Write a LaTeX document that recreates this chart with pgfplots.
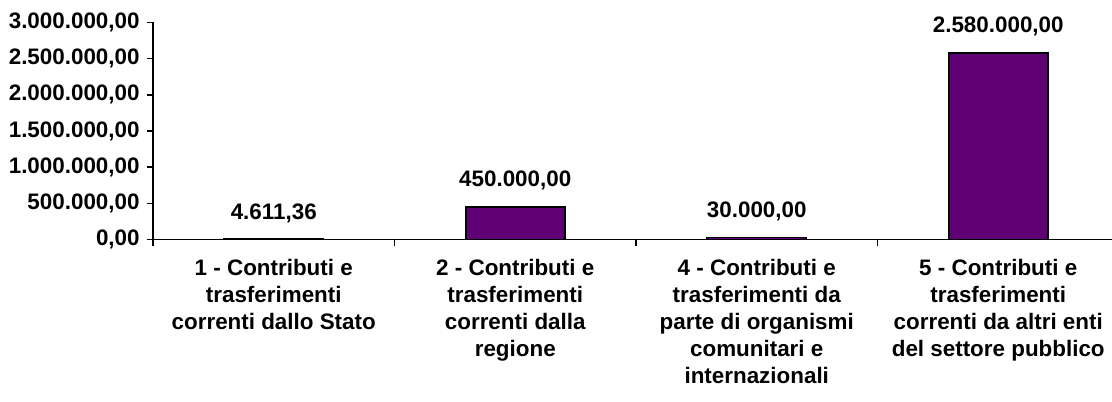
\documentclass[border=0pt]{standalone}
\usepackage{fontspec}
\setmainfont{Liberation Sans}
\usepackage{pgfplots}
\usepackage{pgfplotstable}
\pgfplotsset{compat=1.18}
\definecolor{barpurple}{RGB}{95,0,117}
\pgfplotstableread{
x y label
0 4611.36 4.611,36
1 450000 450.000,00
2 30000 30.000,00
3 2580000 2.580.000,00
}\datatable
\begin{document}
\begin{tikzpicture}
\begin{axis}[
 at={(76.5pt,80.75pt)}, anchor=south west,
 scale only axis, width=483pt, height=108.5pt,
 xmin=-0.5, xmax=3.5, ymin=0, ymax=3000000,
 axis lines=left, axis line style={-, line width=0.9pt},
 tick align=outside, major tick length=3pt,
 tick style={line width=0.8pt, black},
 xtick={-0.5,0.5,1.5,2.5,3.5}, xticklabels={},
 ytick={0,500000,1000000,1500000,2000000,2500000,3000000},
 yticklabels={\textbf{0,00},\textbf{500.000,00},\textbf{1.000.000,00},\textbf{1.500.000,00},\textbf{2.000.000,00},\textbf{2.500.000,00},\textbf{3.000.000,00}},
 scaled y ticks=false,
 font=\fontsize{11.2}{13.5}\selectfont\bfseries,
 yticklabel style={anchor=east, inner sep=0pt, xshift=-3.5pt},
 extra x ticks={0,1,2,3},
 extra x tick labels={{1 - Contributi e\\trasferimenti\\correnti dallo Stato},{2 - Contributi e\\trasferimenti\\correnti dalla\\regione},{4 - Contributi e\\trasferimenti da\\parte di organismi\\comunitari e\\internazionali},{5 - Contributi e\\trasferimenti\\correnti da altri enti\\del settore pubblico}},
 extra x tick style={major tick length=0pt, xticklabel style={align=center, anchor=north, inner sep=0pt, yshift=-9.75pt}},
 clip=false,
]
\addplot[ybar, bar width=49.5pt, fill=barpurple, draw=black, line width=0.8pt,
  nodes near coords, point meta=explicit symbolic,
  nodes near coords style={anchor=base, inner sep=0pt, yshift=10pt, text=black}]
  table[x=x,y=y,meta=label]{\datatable};
\end{axis}
\pgfresetboundingbox
\path[use as bounding box] (0,0) rectangle (556pt,200.5pt);
\end{tikzpicture}
\end{document}
